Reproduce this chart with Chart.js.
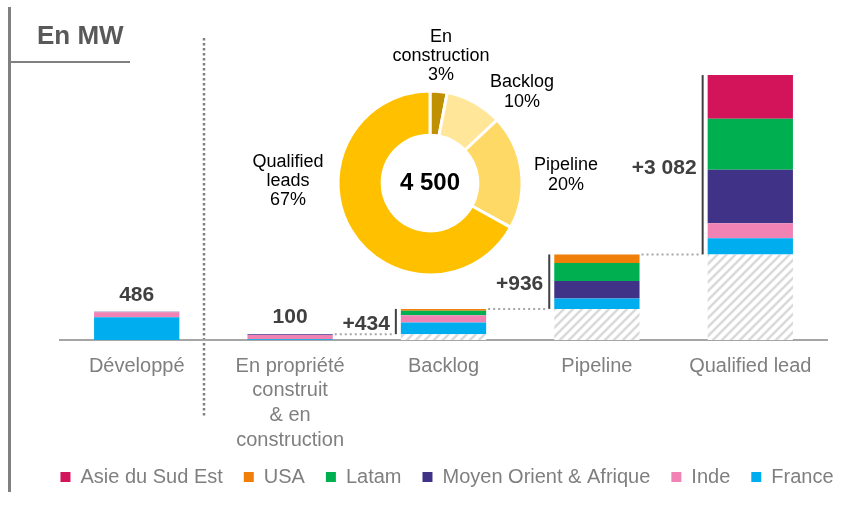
<!DOCTYPE html>
<html><head><meta charset="utf-8">
<script src="https://cdn.jsdelivr.net/npm/chart.js@4.4.1/dist/chart.umd.min.js"></script>
<style>
html,body{margin:0;padding:0;background:#fff;}
#wrap{position:relative;width:864px;height:510px;overflow:hidden;}
#main{position:absolute;left:0;top:0;}
#donut{position:absolute;left:230px;top:20px;}
</style></head><body>
<div id="wrap"><canvas id="main" width="864" height="510"></canvas><canvas id="donut" width="400" height="326"></canvas></div>
<script>
// ---------- data ----------
const categories = ["Développé", ["En propriété","construit","& en","construction"], "Backlog", "Pipeline", "Qualified lead"];
const france             = [390, 15, 199, 179, 280];
const inde               = [86, 70, 125, 0, 258];
const moyenOrientAfrique = [10, 15, 0, 302, 916];
const latam              = [0, 0, 80, 310, 878];
const usa                = [0, 0, 30, 145, 0];
const asieSudEst         = [0, 0, 0, 0, 750];
const seriesNames = ["France", "Inde", "Moyen Orient & Afrique", "Latam", "USA", "Asie du Sud Est"];
const donutLabels = [["En","construction"], ["Backlog"], ["Pipeline"], ["Qualified","leads"]];
const donutShares = [3, 10, 20, 67];
const donutTotal = 4500;
const unitTitle = "En MW";
const yMax = 5000;

// ---------- styles ----------
const FONT = "'Liberation Sans', Arial, sans-serif";
const seriesColors = ["#00AEEF", "#F083B4", "#403387", "#00B050", "#F07F09", "#D4145A"];
const donutColors = ["#BF9000", "#FFE699", "#FFD966", "#FFC000"];
const donutLabelOffsets = [[11,-127],[92,-91],[136,-8],[-142,-2]];

const seriesData = [france, inde, moyenOrientAfrique, latam, usa, asieSudEst];
const totals = categories.map((c,i)=>seriesData.reduce((s,a)=>s+a[i],0));
const bases = totals.map(()=>0);
for (let i=2;i<totals.length;i++) bases[i] = bases[i-1] + totals[i-1];

function fmt(n){ return String(n).replace(/\B(?=(\d{3})+(?!\d))/g,' '); }

// hatch pattern
const tile = document.createElement('canvas'); tile.width = 9; tile.height = 9;
const tc = tile.getContext('2d');
tc.fillStyle = '#ffffff'; tc.fillRect(0,0,9,9);
tc.strokeStyle = '#DADADA'; tc.lineWidth = 2.6;
tc.beginPath(); tc.moveTo(-1,10); tc.lineTo(10,-1); tc.moveTo(-1,1); tc.lineTo(1,-1); tc.moveTo(8,10); tc.lineTo(10,8); tc.stroke();
const hatch = tc.createPattern(tile,'repeat');

const datasets = [{label:'base', data: bases, backgroundColor: hatch, borderWidth:0}];
seriesData.forEach((d,k)=>datasets.push({label: seriesNames[k], data: d, backgroundColor: seriesColors[k], borderWidth:0}));

const deco = {
  id:'deco',
  beforeDraw(chart){
    const ctx = chart.ctx; ctx.save();
    ctx.fillStyle = '#808080'; ctx.fillRect(8,7,3,485);
    ctx.fillRect(11,61,119,2);
    ctx.fillStyle = '#595959'; ctx.font = "bold 26px " + FONT;
    ctx.textBaseline = 'middle'; ctx.textAlign = 'left';
    ctx.fillText(unitTitle, 37, 37);
    ctx.strokeStyle = '#808080'; ctx.lineWidth = 2.5; ctx.setLineDash([2.5,2.5]);
    ctx.beginPath(); ctx.moveTo(204,38); ctx.lineTo(204,416); ctx.stroke();
    ctx.restore();
  },
  afterDatasetsDraw(chart){
    const ctx = chart.ctx, y = chart.scales.y;
    const meta = chart.getDatasetMeta(1);
    ctx.save();
    for (let i=0;i<totals.length;i++){
      const bar = meta.data[i];
      const left = bar.x - bar.width/2;
      const top = y.getPixelForValue(bases[i]+totals[i]);
      const bot = y.getPixelForValue(bases[i]);
      if (i < 2){
        ctx.fillStyle = '#404040'; ctx.font = "bold 21px " + FONT;
        ctx.textAlign = 'center'; ctx.textBaseline = 'middle';
        ctx.fillText(fmt(totals[i]), bar.x, top-17);
      } else {
        const prev = meta.data[i-1];
        const bx = left - 5;
        ctx.strokeStyle = '#A6A6A6'; ctx.lineWidth = 2; ctx.setLineDash([2,3]);
        ctx.beginPath(); ctx.moveTo(prev.x + prev.width/2 + 2, bot); ctx.lineTo(bx-1, bot); ctx.stroke();
        ctx.setLineDash([]);
        ctx.strokeStyle = '#404040'; ctx.lineWidth = 2;
        ctx.beginPath(); ctx.moveTo(bx, top); ctx.lineTo(bx, bot); ctx.stroke();
        ctx.fillStyle = '#404040'; ctx.font = "bold 21px " + FONT;
        ctx.textAlign = 'right'; ctx.textBaseline = 'middle';
        ctx.fillText('+' + fmt(totals[i]), bx-6, (top+bot)/2 + 3);
      }
    }
    ctx.restore();
  }
};

const hiddenAxis = (w, pos) => ({position:pos, display:true, grid:{display:false, drawTicks:false}, border:{display:false}, ticks:{display:false}, afterFit(s){ s.width = w; }});

new Chart(document.getElementById('main'), {
  type:'bar',
  data:{labels: categories, datasets},
  options:{
    responsive:false, animation:false,
    layout:{padding:{left:30, right:0, top:49, bottom:13}},
    datasets:{bar:{categoryPercentage:1, barPercentage:0.556}},
    scales:{
      x:{stacked:true,
         grid:{display:false, drawTicks:false},
         border:{display:true, color:'#A6A6A6', width:2},
         ticks:{color:'#7F7F7F', font:{family:FONT, size:20, lineHeight:1.23}, padding:14, maxRotation:0, autoSkip:false},
         afterFit(s){ s.height = 106; }},
      y:Object.assign({stacked:true, min:0, max:yMax}, hiddenAxis(30,'left')),
      yr:Object.assign({min:0, max:yMax}, hiddenAxis(37,'right'))
    },
    plugins:{
      legend:{display:true, position:'bottom', reverse:true,
        labels:{filter:(it)=>it.text!=='base', boxWidth:10, boxHeight:10, padding:21, color:'#7F7F7F', font:{family:FONT, size:20}}},
      tooltip:{enabled:false}
    }
  },
  plugins:[deco]
});

const donutText = {
  id:'donutText',
  afterDraw(chart){
    const ctx = chart.ctx;
    const arc = chart.getDatasetMeta(0).data[0];
    const cx = arc.x, cy = arc.y;
    const sum = donutShares.reduce((a,b)=>a+b,0);
    ctx.save();
    ctx.fillStyle = '#000'; ctx.textAlign='center'; ctx.textBaseline='middle';
    ctx.font = "bold 24px " + FONT;
    ctx.fillText(fmt(donutTotal), cx, cy);
    ctx.font = "18px " + FONT;
    donutLabels.forEach((lines,k)=>{
      const all = lines.concat([Math.round(donutShares[k]/sum*100)+'%']);
      const lh = 19.3;
      const [ox,oy] = donutLabelOffsets[k];
      const y0 = cy + oy - (all.length-1)*lh/2;
      all.forEach((t,j)=>ctx.fillText(t, cx+ox, y0 + j*lh));
    });
    ctx.restore();
  }
};

new Chart(document.getElementById('donut'), {
  type:'doughnut',
  data:{labels: donutLabels.map(l=>l.join(' ')), datasets:[{data: donutShares, backgroundColor: donutColors, borderColor:'#ffffff', borderWidth:3}]},
  options:{responsive:false, animation:false, radius:92, cutout:'52%',
    plugins:{legend:{display:false}, tooltip:{enabled:false}}},
  plugins:[donutText]
});
</script>
</body></html>
